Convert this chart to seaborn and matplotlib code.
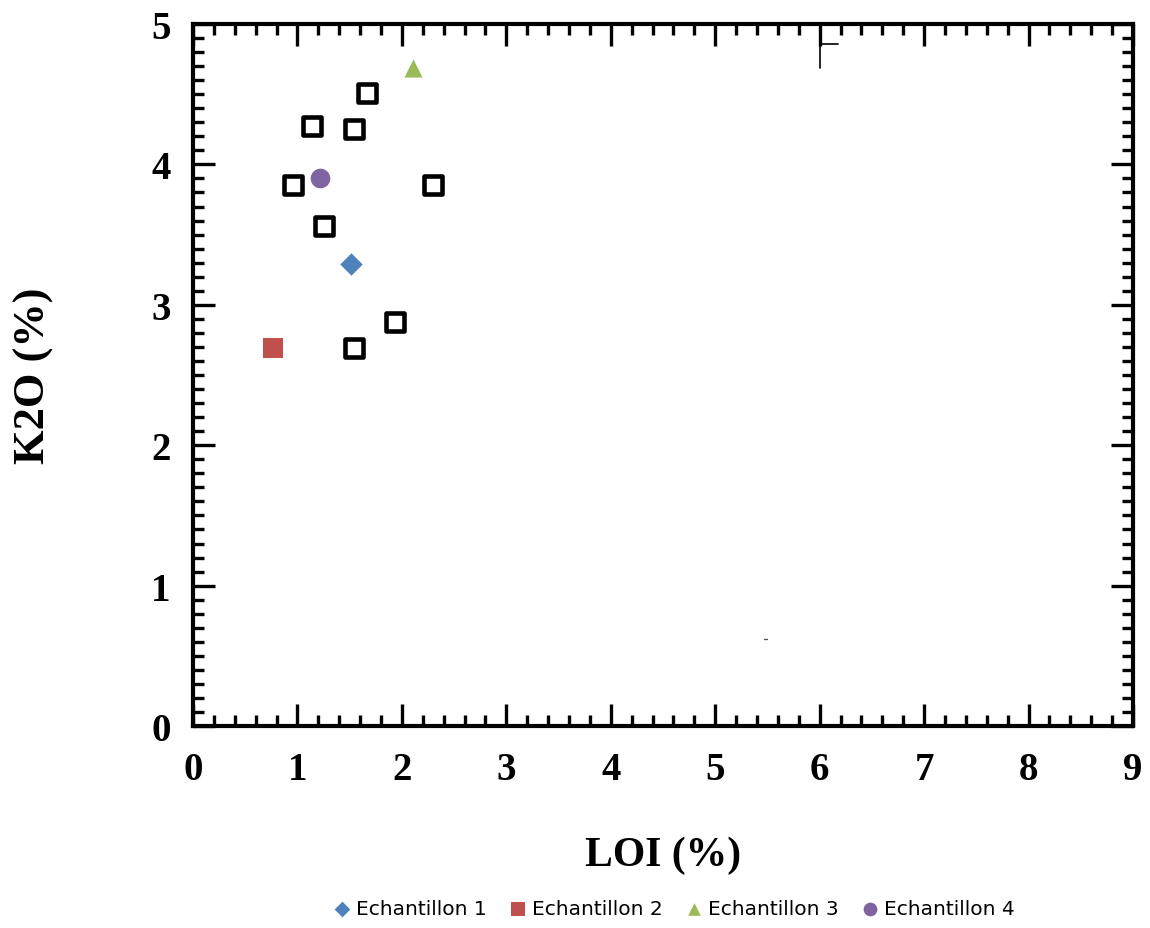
import matplotlib
matplotlib.use("Agg")
import matplotlib.pyplot as plt
import seaborn as sns
import pandas as pd
from matplotlib.ticker import MultipleLocator

# ---- data ----
ref_loi = [1.67, 1.14, 1.54, 0.96, 2.30, 1.25, 1.93, 1.54]
ref_k2o = [4.51, 4.27, 4.25, 3.85, 3.85, 3.56, 2.88, 2.69]

sample_names = ["Echantillon 1", "Echantillon 2", "Echantillon 3", "Echantillon 4"]
sample_loi = [1.51, 0.77, 2.11, 1.22]
sample_k2o = [3.29, 2.69, 4.69, 3.90]
sample_colors = ["#4F81BD", "#C0504D", "#9BBB59", "#8064A2"]
sample_markers = ["D", "s", "^", "o"]

# small stray marks present in the source picture
stray_x = [6.0, 6.0, 6.18]
stray_y = [4.69, 4.857, 4.857]

x_ticks = list(range(0, 10))
y_ticks = list(range(0, 6))

sns.set_theme(style="white")
plt.rcParams["font.family"] = ["Liberation Serif", "DejaVu Serif"]
plt.rcParams["text.color"] = "black"
plt.rcParams["axes.labelcolor"] = "black"
plt.rcParams["xtick.color"] = "black"
plt.rcParams["ytick.color"] = "black"

fig = plt.figure(figsize=(11.5, 9.29), dpi=100)
ax = fig.add_axes([0.1678, 0.2174, 0.9852 - 0.1678, 0.9731 - 0.2174])

ref_df = pd.DataFrame({"LOI": ref_loi, "K2O": ref_k2o})
sns.scatterplot(data=ref_df, x="LOI", y="K2O", marker="s", s=160,
                facecolor="white", edgecolor="black", linewidth=3.3,
                ax=ax, legend=False, zorder=3)

smp_df = pd.DataFrame({"LOI": sample_loi, "K2O": sample_k2o, "Sample": sample_names})
sizes = {"Echantillon 1": 130, "Echantillon 2": 190, "Echantillon 3": 170, "Echantillon 4": 200}
for name, col, mk in zip(sample_names, sample_colors, sample_markers):
    sub = smp_df[smp_df["Sample"] == name]
    sns.scatterplot(data=sub, x="LOI", y="K2O", marker=mk, color=col,
                    s=sizes[name], linewidth=0, ax=ax, label=name, zorder=4)

ax.plot(stray_x, stray_y, color="black", lw=1.2, zorder=2)
ax.plot([5.47, 5.50], [0.62, 0.62], color="#555555", lw=1.0, zorder=2)

ax.set_xlim(0, 9)
ax.set_ylim(0, 5)
ax.set_xticks(x_ticks)
ax.set_yticks(y_ticks)
ax.xaxis.set_minor_locator(MultipleLocator(0.2))
ax.yaxis.set_minor_locator(MultipleLocator(0.1))
ax.tick_params(which="major", direction="in", length=16, width=2.4,
               top=True, right=True, bottom=True, left=True,
               labelsize=28, color="black", labelcolor="black")
ax.tick_params(axis="x", which="major", pad=18)
ax.tick_params(axis="y", which="major", pad=16)
ax.tick_params(which="minor", direction="in", length=8, width=2.4,
               top=True, right=True, bottom=True, left=True, color="black")
for lab in ax.get_xticklabels() + ax.get_yticklabels():
    lab.set_fontweight("bold")
for sp in ax.spines.values():
    sp.set_linewidth(3.0)
    sp.set_color("black")

ax.set_xlabel("LOI (%)", fontsize=30, fontweight="bold", labelpad=34, color="black")
ax.set_ylabel("K2O (%)", fontsize=32, fontweight="bold", labelpad=70, color="black")
ax.grid(False)

handles, labels = ax.get_legend_handles_labels()
if ax.legend_:
    ax.legend_.remove()
leg = fig.legend(handles, labels, loc="center", bbox_to_anchor=(0.585, 0.021),
                 ncol=4, frameon=False, handletextpad=0.15,
                 columnspacing=1.0, markerscale=0.7, handlelength=1.1,
                 prop={"family": "DejaVu Sans", "size": 14.5})

fig.savefig("out.png", dpi=100)
